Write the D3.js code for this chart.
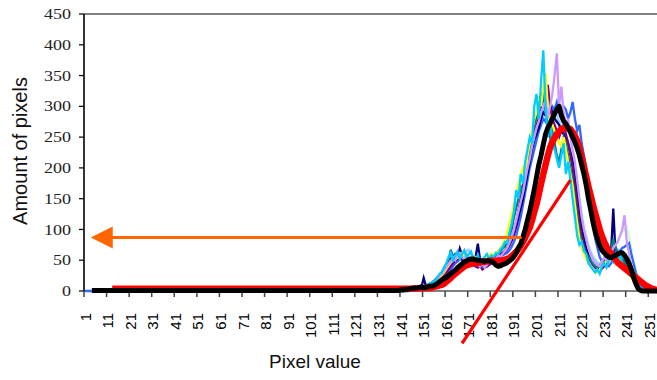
<!DOCTYPE html>
<html><head><meta charset="utf-8">
<script src="https://cdn.jsdelivr.net/npm/d3@7"></script>
<style>html,body{margin:0;padding:0;background:#fff;overflow:hidden}</style>
</head><body><svg id="c" width="657" height="380"></svg>
<script>
// ---------- data ----------
const tickLabels = ["1","11","21","31","41","51","61","71","81","91","101","111","121","131","141","151","161","171","181","191","201","211","221","231","241","251"];
const yTicks = [0,50,100,150,200,250,300,350,400,450];
const xTitle = "Pixel value";
const yTitle = "Amount of pixels";

// thin series: values from pixel value 141 to 256
const cyanValues = [0,0,1,0,2,1,3,2,5,4, 6,8,7,12,15,14,22,28,30,38, 45,55,62,50,58,64,52,60,66,55, 60,64,52,48,58,45,50,55,60,52, 58,55,62,60,68,72,80,78,95,110, 130,164,150,190,175,210,230,250,240,300, 320,280,340,391,300,250,280,240,230,215, 200,220,240,190,210,180,150,120,90,75, 80,65,60,45,40,35,30,35,28,40, 45,38,50,55,48,60,52,58,45,40, 35,30,25,20,15,10,5,2,1,0, 0,0,0,0,0,0];
const lavenderValues = [0,1,0,1,2,2,3,3,4,5, 5,7,9,10,13,16,20,24,28,33, 38,44,48,55,50,58,62,56,52,60, 55,50,48,45,42,40,44,38,42,48, 50,54,52,58,56,60,65,70,78,88, 100,115,130,145,160,180,200,215,235,250, 265,275,290,300,310,280,300,320,350,386, 300,332,290,270,280,250,230,210,180,150, 120,100,85,70,60,50,45,42,40,48, 55,50,58,62,70,75,80,90,100,123, 80,60,40,25,15,8,4,2,1,0, 0,0,0,0,0,0];
const tealValues = [0,0,1,1,2,2,3,4,4,5, 6,8,10,12,15,18,22,25,30,35, 40,48,67,55,52,58,60,55,52,50, 48,50,45,42,46,48,40,44,50,52, 55,50,58,62,65,70,72,80,90,100, 120,135,150,170,160,185,200,230,250,270, 280,300,310,326,290,270,250,260,240,220, 210,230,250,240,220,200,180,150,120,95, 80,70,60,55,50,45,40,38,42,45, 50,55,60,65,85,70,62,58,52,48, 42,35,28,20,12,6,3,1,0,0, 0,0,0,0,0,0];
const yellowValues = [0,0,0,1,1,2,2,3,3,4, 5,6,8,10,12,15,18,22,26,30, 36,42,48,52,56,54,58,62,56,52, 50,48,52,55,50,46,48,52,55,58, 60,58,62,65,70,75,85,95,110,125, 140,160,175,190,200,185,220,240,260,280, 290,310,300,330,354,300,280,270,260,250, 240,235,250,230,210,190,170,140,110,85, 70,60,52,45,40,35,32,30,35,40, 45,48,52,55,60,58,55,50,45,40, 35,28,22,15,10,5,2,1,0,0, 0,0,0,0,0,0];
const purpleValues = [0,0,0,1,1,1,2,2,3,3, 4,5,6,8,10,12,15,18,22,26, 30,35,40,45,48,52,55,50,48,52, 50,45,42,40,38,42,35,38,40,42, 45,48,50,55,60,62,65,70,75,85, 95,110,130,150,170,190,210,230,250,260, 270,280,300,310,320,335,300,280,270,260, 250,260,270,255,240,220,200,170,140,110, 90,75,62,55,48,42,38,35,32,36, 40,45,50,55,65,70,60,55,50,45, 40,32,25,18,10,5,2,1,0,0, 0,0,0,0,0,0];
// blue series: values from pixel value 1 to 256
const blueValues = [0,0,0,0,0,0,0,0,0,0, 0,0,0,0,0,0,0,0,0,0, 0,0,0,0,0,0,0,0,0,0, 0,0,0,0,0,0,0,0,0,0, 0,0,0,0,0,0,0,0,0,0, 0,0,0,0,0,0,0,0,0,0, 0,0,0,0,0,0,0,0,0,0, 0,0,0,0,0,0,0,0,0,0, 0,0,0,0,0,0,0,0,0,0, 0,0,0,0,0,0,0,0,0,0, 0,0,0,0,0,0,0,0,0,0, 0,0,0,0,0,0,0,0,0,0, 0,0,0,0,0,0,0,0,0,0, 0,0,0,0,0,0,0,0,0,0,
  0,0,0,0,1,1,1,2,2,3, 3,4,5,6,8,10,12,15,18,22, 26,30,35,40,45,48,52,50,55,52, 50,48,52,50,48,46,44,48,50,52, 50,52,55,54,56,58,60,62,66,72, 80,90,105,120,140,160,180,200,215,230, 245,260,270,280,275,290,285,300,295,307, 290,285,300,295,280,290,307,280,260,270, 240,220,200,170,140,110,85,70,55,48, 45,42,40,45,50,55,60,65,70,72, 75,78,60,45,30,18,10,5,2,0, 0,0,0,0,0,0];
const navyValues = [0,0,1,0,2,1,3,2,4,6, 21,8,10,12,14,16,20,24,30,36, 42,48,52,56,60,55,69,58,52,55, 50,52,48,55,77,50,45,42,40,44, 48,50,52,55,58,60,64,68,74,82, 92,105,120,135,150,170,190,210,230,245, 255,265,280,290,285,295,300,290,280,275, 270,260,255,250,240,225,210,185,160,130, 105,85,70,58,50,44,40,38,36,40, 45,50,55,60,134,60,55,50,45,40, 35,30,25,18,12,6,3,1,0,0, 0,0,0,0,0,0];
const lightBlueValues = [0,0,0,1,1,2,2,3,3,4, 5,6,8,10,12,14,18,22,26,30, 35,40,46,50,55,60,58,54,60,65, 67,60,55,52,48,50,52,55,50,48, 50,52,55,58,60,65,68,72,80,90, 100,115,130,150,165,180,200,220,235,250, 260,270,285,295,300,305,300,295,290,285, 275,265,255,250,240,230,215,195,170,145, 120,100,85,72,62,55,50,46,44,46, 50,55,58,62,66,70,68,64,60,55, 50,45,38,30,20,12,6,3,1,0, 0,0,0,0,0,0];
const lightGreenValues = [0,0,0,0,1,1,2,2,3,3, 4,5,6,8,10,12,15,18,22,26, 30,35,40,44,48,50,52,50,48,50, 48,46,45,44,45,46,48,50,52,54, 55,56,58,60,62,65,70,75,82,90, 100,112,125,140,155,170,185,200,215,230, 245,255,265,275,280,285,290,285,280,275, 270,262,255,248,240,230,218,200,178,155, 130,110,92,78,66,58,52,48,46,48, 52,56,60,64,70,75,80,88,95,100, 104,90,70,50,32,18,8,3,1,0, 0,0,0,0,0,0];

// black (mean) series: values from pixel value 4 to 256
const blackValues = [1,1,1,1,1,1,1, 1,1,1,1,1,1,1,1,1,1, 1,1,1,1,1,1,1,1,1,1, 1,1,1,1,1,1,1,1,1,1, 1,1,1,1,1,1,1,1,1,1, 1,1,1,1,1,1,1,1,1,1, 1,1,1,1,1,1,1,1,1,1, 1,1,1,1,1,1,1,1,1,1, 1,1,1,1,1,1,1,1,1,1, 1,1,1,1,1,1,1,1,1,1, 1,1,1,1,1,1,1,1,1,1, 1,1,1,1,1,1,1,1,1,1, 1,1,1,1,1,1,1,1,1,1, 1,1,1,1,1,1,1,1,1,1,
  2,2,3,3,4,4,5,5,6,7, 5,6,7,8,8,10,12,15,18,20, 22,25,28,31,34,38,41,44,47,49, 51,52,52,51,50,49,49,48,49,49, 48,46,42,40,41,43,44,46,49,52, 56,62,70,76,88,100,115,130,147,165, 185,205,220,238,255,265,272,280,288,295, 300,285,276,272,265,258,250,242,232,220, 205,190,172,150,132,112,96,84,74,66, 62,58,55,54,56,58,60,62,62,58, 52,45,35,22,12,4,1,0,0,0, 0,0,0,0,0,0];
// red (fitted) series: values from pixel value 13 to 256
const redValues = [3.5,3.5,3.5,3.5,3.5,3.5,3.5,3.5, 3.5,3.5,3.5,3.5,3.5,3.5,3.5,3.5,3.5,3.5, 3.5,3.5,3.5,3.5,3.5,3.5,3.5,3.5,3.5,3.5, 3.5,3.5,3.5,3.5,3.5,3.5,3.5,3.5,3.5,3.5, 3.5,3.5,3.5,3.5,3.5,3.5,3.5,3.5,3.5,3.5, 3.5,3.5,3.5,3.5,3.5,3.5,3.5,3.5,3.5,3.5, 3.5,3.5,3.5,3.5,3.5,3.5,3.5,3.5,3.5,3.5, 3.5,3.5,3.5,3.5,3.5,3.5,3.5,3.5,3.5,3.5, 3.5,3.5,3.5,3.5,3.5,3.5,3.5,3.5,3.5,3.5, 3.5,3.5,3.5,3.5,3.5,3.5,3.5,3.5,3.5,3.5, 3.5,3.5,3.5,3.5,3.5,3.5,3.5,3.5,3.5,3.5, 3.5,3.5,3.5,3.5,3.5,3.5,3.5,3.5,3.5,3.5, 3.5,3.5,3.5,3.5,3.5,3.5,3.5,3.5,3.5,3.5,
  3.5,3.5,3.5,3.5,3.5,4,4,4,4,5, 5,5,5,5,6,7,8,9,10,12, 15,18,21,25,28,31,34,37,40,42, 43,44,45,45,46,46,47,48,48,49, 49,49,49,49,49,50,51,52,54,57, 60,64,68,74,80,87,95,103,115,128, 141,157,174,190,205,220,233,242,249,255, 259,263,265,265,264,263,258,252,244,232, 218,202,186,170,155,140,126,113,100,89, 80,72,65,60,55,51,46,43,40,37, 34,31,28,25,22,19,16,13,10,8, 6,4,3,2,1,1];

// straight tangent line (pixel value, amount)
const tangentX = [168, 216];
const tangentY = [-85, 180];
// orange arrow (from, to) at a level
const arrowX = [194.4, 3.5];
const arrowLevel = 87;

const thinSeries = [
  {values: lightGreenValues, start: 141, color: "#CCFFCC"},
  {values: lightBlueValues, start: 141, color: "#99CCFF"},
  {values: blueValues, start: 1, color: "#3366FF"},
  {values: navyValues, start: 141, color: "#000080"},
  {values: purpleValues, start: 141, color: "#800080"},
  {values: tealValues, start: 141, color: "#008080"},
  {values: yellowValues, start: 141, color: "#FFFF00"},
  {values: lavenderValues, start: 141, color: "#CC99FF"},
  {values: cyanValues, start: 141, color: "#00CCFF"}
];

// ---------- chart ----------
const svg = d3.select("#c");
const x0 = 84, catW = 2.257;
const x = d3.scaleLinear().domain([0.5, 256.5]).range([x0, x0 + 256 * catW]);
const y = d3.scaleLinear().domain([0, 450]).range([291, 14]);

const line = d3.line().x(d => x(d[0])).y(d => y(d[1]));
const toPts = (vals, start) => vals.map((v, k) => [start + k, v]);

// top border
svg.append("line").attr("x1", x0).attr("x2", 657).attr("y1", y(450)).attr("y2", y(450))
  .attr("stroke", "#808080").attr("stroke-width", 2);
// x axis line
svg.append("line").attr("x1", x0).attr("x2", 657).attr("y1", y(0)).attr("y2", y(0))
  .attr("stroke", "#808080").attr("stroke-width", 2);
// x axis ticks
const tickPos = d3.range(0, 26).map(k => k * 10 + 0.5);
svg.selectAll(".xt").data(tickPos).enter().append("line")
  .attr("x1", d => x(d)).attr("x2", d => x(d)).attr("y1", y(0)).attr("y2", y(0) + 6)
  .attr("stroke", "#444").attr("stroke-width", 1.5);

// thin series
thinSeries.forEach(s => {
  svg.append("path").attr("d", line(toPts(s.values, s.start)))
    .attr("fill", "none").attr("stroke", s.color).attr("stroke-width", 2.3);
});

// red fitted & black mean (black on top)
svg.append("path").attr("d", line(toPts(redValues, 13)))
  .attr("fill", "none").attr("stroke", "#FF0000").attr("stroke-width", 6.5).attr("stroke-linejoin", "round");
svg.append("path").attr("d", line(toPts(blackValues, 4)))
  .attr("fill", "none").attr("stroke", "#000").attr("stroke-width", 5).attr("stroke-linejoin", "round");

// x labels
svg.selectAll(".xl").data(tickLabels).enter().append("text")
  .attr("transform", d => `translate(${x(+d)},313) rotate(-90)`)
  .attr("text-anchor", "end").attr("dy", "0.36em")
  .attr("font-family", "Liberation Sans, Arial, sans-serif").attr("font-size", 15)
  .attr("fill", "#000").text(d => d);

// y axis
svg.append("line").attr("x1", x0).attr("x2", x0).attr("y1", y(450)).attr("y2", y(0))
  .attr("stroke", "#111").attr("stroke-width", 1.7);
svg.selectAll(".yt").data(yTicks).enter().append("line")
  .attr("x1", x0 - 5).attr("x2", x0).attr("y1", d => y(d)).attr("y2", d => y(d))
  .attr("stroke", "#111").attr("stroke-width", 1.3);
svg.selectAll(".yl").data(yTicks).enter().append("text")
  .attr("transform", d => `translate(71,${y(d)}) scale(1.2,1)`)
  .attr("text-anchor", "end").attr("dy", "0.34em")
  .attr("font-family", "Liberation Serif, Times New Roman, serif").attr("font-size", 15)
  .attr("fill", "#222").text(d => d);

// titles
svg.append("text").attr("x", 315).attr("y", 368).attr("text-anchor", "middle")
  .attr("font-family", "Liberation Sans, Arial, sans-serif").attr("font-size", 19)
  .attr("fill", "#111").text(xTitle);
svg.append("text").attr("transform", "translate(27,151) rotate(-90)").attr("text-anchor", "middle")
  .attr("font-family", "Liberation Sans, Arial, sans-serif").attr("font-size", 20)
  .attr("fill", "#111").text(yTitle);

// tangent line
svg.append("line")
  .attr("x1", x(tangentX[0])).attr("y1", y(tangentY[0]))
  .attr("x2", x(tangentX[1])).attr("y2", y(tangentY[1]))
  .attr("stroke", "#FF0000").attr("stroke-width", 3.2);

// orange arrow
const ay = y(arrowLevel), tipX = x(arrowX[1]), headLen = 22, headHalf = 11;
svg.append("line").attr("x1", x(arrowX[0])).attr("x2", tipX + headLen - 1)
  .attr("y1", ay).attr("y2", ay).attr("stroke", "#FF6600").attr("stroke-width", 3);
svg.append("path")
  .attr("d", `M${tipX},${ay} L${tipX + headLen},${ay - headHalf} L${tipX + headLen},${ay + headHalf} Z`)
  .attr("fill", "#FF6600");
</script></body></html>
